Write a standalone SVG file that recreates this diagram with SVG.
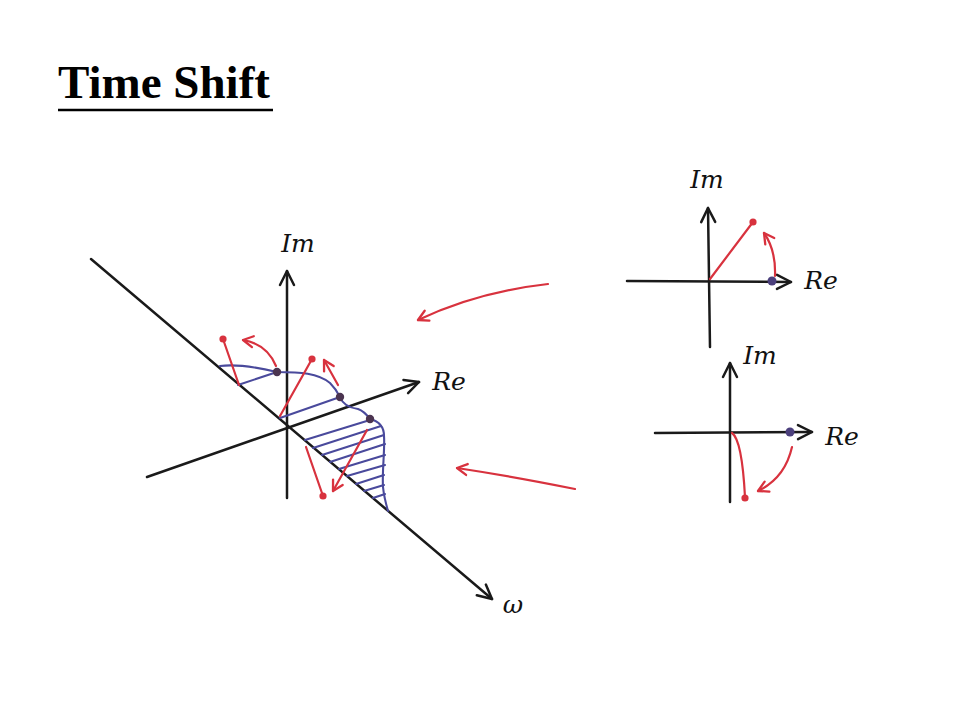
<svg xmlns="http://www.w3.org/2000/svg" width="960" height="720" viewBox="0 0 960 720">
<defs>
<style>
.ax{fill:none;stroke:#1a1a1a;stroke-width:2.5;stroke-linecap:round;stroke-linejoin:round}
.bl{fill:none;stroke:#4a4a9c;stroke-width:2.1;stroke-linecap:round;stroke-linejoin:round}
.rd{fill:none;stroke:#d8323e;stroke-width:2.2;stroke-linecap:round;stroke-linejoin:round}
.rdot{fill:#d8323e}
.bdot{fill:#4b3450}
.pdot{fill:#4b3f7c}
.lbl{font-family:"DejaVu Serif",serif;font-style:italic;font-size:25px;fill:#111;text-anchor:middle}
.title{font-family:"Liberation Serif","Times New Roman",serif;font-weight:bold;font-size:47px;fill:#000}
</style>
<marker id="ah" markerUnits="userSpaceOnUse" viewBox="0 0 18 18" markerWidth="18" markerHeight="18" refX="16" refY="9" orient="auto">
<path d="M2,2 L16,9 L2,16" fill="none" stroke="#1a1a1a" stroke-width="2.5" stroke-linecap="round" stroke-linejoin="round"/>
</marker>
<marker id="rh" markerUnits="userSpaceOnUse" viewBox="0 0 14 14" markerWidth="14" markerHeight="14" refX="12" refY="7" orient="auto">
<path d="M2,1.5 L12,7 L2,12.5" fill="none" stroke="#d8323e" stroke-width="2.3" stroke-linecap="round" stroke-linejoin="round"/>
</marker>
</defs>
<rect width="960" height="720" fill="#fff"/>

<g id="title">
<text class="title" x="58" y="98">Time Shift</text>
<line x1="58" y1="110" x2="273" y2="110" stroke="#000" stroke-width="2.5"/>
</g>

<g id="main-plot">
<path class="ax" d="M91,259 L492,599" marker-end="url(#ah)"/>
<path class="ax" d="M287,498 L287,271" marker-end="url(#ah)"/>
<path class="ax" d="M147,477 L419,382" marker-end="url(#ah)"/>
<text class="lbl" x="298" y="252">Im</text>
<text class="lbl" x="449" y="390">Re</text>
<text class="lbl" x="513" y="613">ω</text>

<path class="bl" d="M220,366 C235,364 260,368 277,372 C300,372 318,373 330,383 C336,389 338,393 340,397 C343,405 350,408 358,409 C364,411 367,415 370,419 C378,421 384,426 384,436 C385,450 382,470 383,487 C384,497 386,504 388,511"/>
<path class="bl" d="M238,385 L277,372 M280,418 L340,397"/>
<path class="bl" d="M305,440 L370,420 M313,448 L381,426 M322,455 L384,435 M330,462 L385,444 M339,469 L385,455 M347,476 L385,465 M356,484 L384,475 M364,491 L384,485 M373,498 L385,494"/>

<path class="rd" d="M239,385 L223,339"/>
<circle class="rdot" cx="223" cy="339" r="3.6"/>
<path class="rd" d="M276,366 Q267,344 243,340" marker-end="url(#rh)"/>
<path class="rd" d="M280,416 L312,359"/>
<circle class="rdot" cx="312" cy="359" r="3.6"/>
<path class="rd" d="M338,385 L324,360" marker-end="url(#rh)"/>
<path class="rd" d="M306,447 L323,496"/>
<circle class="rdot" cx="323" cy="496" r="3.6"/>
<path class="rd" d="M367,430 L333,491" marker-end="url(#rh)"/>

<circle class="bdot" cx="277" cy="372" r="4.2"/>
<circle class="bdot" cx="340" cy="397" r="4.2"/>
<circle class="bdot" cx="370" cy="419" r="4.2"/>
</g>

<g id="transfer-arrows">
<path class="rd" d="M548,284 Q477,292 418,320" marker-end="url(#rh)"/>
<path class="rd" d="M575,489 Q510,476 457,468" marker-end="url(#rh)"/>
</g>

<g id="upper-phasor">
<path class="ax" d="M627,281 L791,282" marker-end="url(#ah)"/>
<path class="ax" d="M710,347 L708,208" marker-end="url(#ah)"/>
<text class="lbl" x="707" y="188">Im</text>
<text class="lbl" x="821" y="289">Re</text>
<path class="rd" d="M710,279 L753,222"/>
<circle class="rdot" cx="753" cy="222" r="3.6"/>
<path class="rd" d="M775,276 Q776,250 764,233" marker-end="url(#rh)"/>
<circle class="pdot" cx="772" cy="281" r="4.5"/>
</g>

<g id="lower-phasor">
<path class="ax" d="M655,433 L812,432" marker-end="url(#ah)"/>
<path class="ax" d="M730,502 L730,363" marker-end="url(#ah)"/>
<text class="lbl" x="760" y="364">Im</text>
<text class="lbl" x="842" y="445">Re</text>
<path class="rd" d="M732,433 Q742,440 745,497"/>
<circle class="rdot" cx="745" cy="498" r="3.6"/>
<path class="rd" d="M792,447 Q785,478 758,491" marker-end="url(#rh)"/>
<circle class="pdot" cx="790" cy="432" r="4.5"/>
</g>
</svg>
